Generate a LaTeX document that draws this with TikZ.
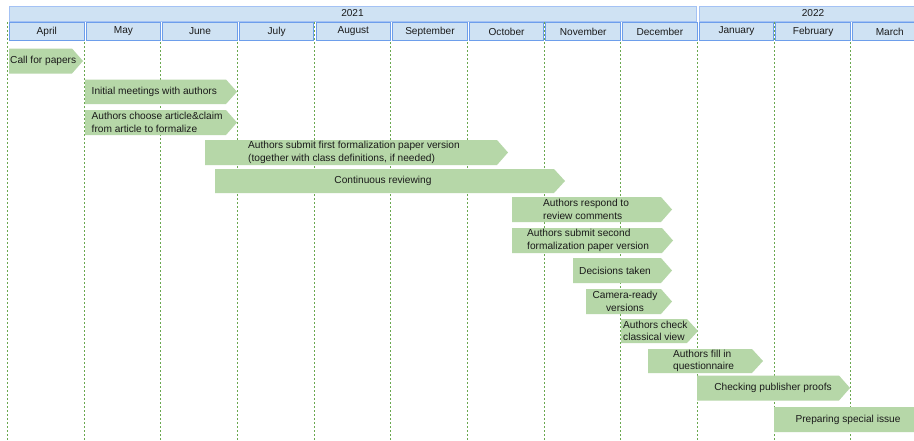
\documentclass[tikz,border=0pt]{standalone}
\usepackage{fontspec}
\setmainfont{Liberation Sans}
\definecolor{hdrfill}{HTML}{CFE2F3}
\definecolor{monthline}{HTML}{6D9EEB}
\definecolor{yearline}{HTML}{A4C2F4}
\definecolor{barcol}{HTML}{B6D7A8}
\definecolor{gridcol}{HTML}{6AA84F}
\definecolor{txt}{HTML}{1A1A1A}
\tikzset{
  yearbox/.style={draw=yearline, fill=hdrfill, line width=0.9pt},
  monthbox/.style={draw=monthline, fill=hdrfill, line width=1pt, minimum width=74.5pt, minimum height=18pt, inner sep=0pt, anchor=north west, text=txt, font=\fontsize{10.1}{12}\selectfont},
  yeartext/.style={text=txt, font=\fontsize{10.1}{12}\selectfont, inner sep=0pt},
  gridline/.style={draw=gridcol, line width=0.8pt, dash pattern=on 2.2pt off 1.8pt},
  barshape/.style={fill=barcol},
  bartext/.style={text=txt, font=\fontsize{10.15}{12.5}\selectfont, inner sep=0pt, align=left},
  barctext/.style={text=txt, font=\fontsize{10.15}{12.5}\selectfont, inner sep=0pt, align=center}
}
% left x, tip x, top y, bottom y
\newcommand\gbar[4]{%
  \fill[barshape] (#1,#3) -- ({#2-11},#3) -- (#2,{(#3+#4)/2}) -- ({#2-11},#4) -- (#1,#4) -- cycle;}
\begin{document}
\begin{tikzpicture}[x=1pt,y=-1pt]
\clip (0,0) rectangle (914,440);
\fill[white] (0,0) rectangle (914,440);
% grid lines
\foreach \i in {0,...,11} {
  \draw[gridline] ({7.6+76.64*\i},22) -- ({7.6+76.64*\i},440);
}
% year bars
\draw[yearbox] (9,6) rectangle (696,21);
\node[yeartext] (y2021) at (352.5,13.5) {2021};
\draw[yearbox] (699,6) rectangle (930,21);
\node[yeartext] (y2022) at (813,13.5) {2022};
% months
\foreach \m [count=\i from 0] in {April,May,June,July,August,September,October,November,December,January,February,March} {
  \node[monthbox] (m\i) at ({9+76.64*\i},22) {\m};
}
% bars
\gbar{9}{83}{48.5}{73.5}
\node[bartext, anchor=west] (b1) at (10,61) {Call for papers};
\gbar{85}{237}{79.5}{104}
\node[bartext, anchor=west] (b2) at (91.5,92) {Initial meetings with authors};
\gbar{85}{237}{110}{135}
\node[bartext, anchor=west] (b3) at (91.5,122.5) {Authors choose article\&claim\\from article to formalize};
\gbar{205}{508}{140}{165}
\node[bartext, anchor=west] (b4) at (248,152.5) {Authors submit first formalization paper version\\(together with class definitions, if needed)};
\gbar{215}{565}{169}{193}
\node[barctext] (b5) at (383,181) {Continuous reviewing};
\gbar{512}{672}{197}{222}
\node[bartext, anchor=west] (b6) at (543,209.5) {Authors respond to\\review comments};
\gbar{512}{673}{228}{253}
\node[bartext, anchor=west] (b7) at (527,240.5) {Authors submit second\\formalization paper version};
\gbar{573}{672}{258}{283}
\node[bartext, anchor=west] (b8) at (579,270.5) {Decisions taken};
\gbar{586}{672}{289}{314}
\node[barctext] (b9) at (625,301.5) {Camera-ready\\versions};
\gbar{621}{698}{319}{343}
\node[bartext, anchor=west] (b10) at (623,331) {Authors check\\classical view};
\gbar{648}{763}{349}{373}
\node[bartext, anchor=west] (b11) at (673,361) {Authors fill in\\questionnaire};
\gbar{697}{850}{375.5}{400.5}
\node[barctext] (b12) at (773,388) {Checking publisher proofs};
\gbar{774}{935}{407}{432}
\node[barctext] (b13) at (848,419.5) {Preparing special issue};
\end{tikzpicture}
\end{document}
